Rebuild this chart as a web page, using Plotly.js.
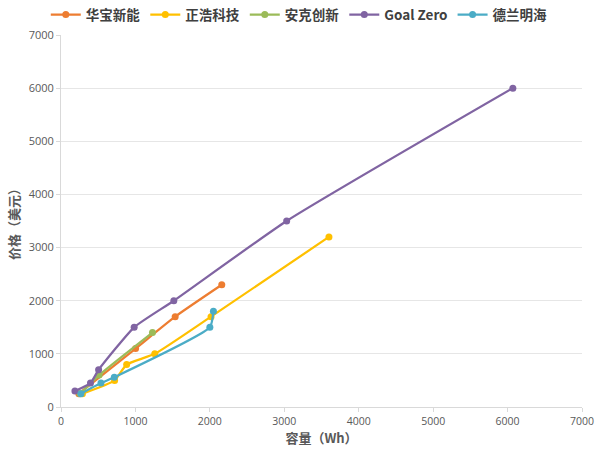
<!DOCTYPE html>
<html>
<head>
<meta charset="utf-8">
<script src="https://cdn.plot.ly/plotly-3.0.1.min.js"></script>
<style>html,body{margin:0;padding:0;background:#fff;}#chart{width:595px;height:449px;}</style>
</head>
<body>
<div id="chart"></div>
<script>
// Series names
const seriesNames = ["华宝新能", "正浩科技", "安克创新", "Goal Zero", "德兰明海"];
// Capacity (Wh) and price (USD) per series
const huabaoX = [240, 1002, 1534, 2160];
const huabaoY = [250, 1100, 1700, 2300];
const zhenghaoX = [288, 720, 882, 1260, 2016, 3600];
const zhenghaoY = [250, 500, 800, 1000, 1700, 3200];
const ankeX = [256, 512, 1229];
const ankeY = [250, 600, 1400];
const goalzeroX = [187, 396, 505, 983, 1516, 3032, 6071];
const goalzeroY = [300, 450, 700, 1500, 2000, 3500, 6000];
const delanX = [268, 537, 716, 2000, 2048];
const delanY = [250, 450, 560, 1500, 1800];
const colors = ["#ED7D31", "#FFC000", "#9BBB59", "#8064A2", "#4BACC6"];
const xTicks = [0, 1000, 2000, 3000, 4000, 5000, 6000, 7000];
const yTicks = [0, 1000, 2000, 3000, 4000, 5000, 6000, 7000];

const xs = [huabaoX, zhenghaoX, ankeX, goalzeroX, delanX];
const ys = [huabaoY, zhenghaoY, ankeY, goalzeroY, delanY];

const traces = seriesNames.map((n, i) => ({
  type: "scatter",
  mode: "lines+markers",
  name: n,
  x: xs[i],
  y: ys[i],
  line: {color: colors[i], width: 2.25, shape: "spline", smoothing: 0.5},
  marker: {color: colors[i], size: 7}
}));

const layout = {
  width: 595, height: 449,
  margin: {l: 61, r: 13, t: 35, b: 42, autoexpand: false},
  paper_bgcolor: "#fff", plot_bgcolor: "#fff",
  font: {family: "'Open Sans', 'Noto Sans CJK SC', sans-serif", color: "#595959", size: 11},
  showlegend: true,
  legend: {
    orientation: "h", xref: "container", yref: "container",
    x: 0.503, xanchor: "center", y: 0.967, yanchor: "middle",
    itemwidth: 30,
    font: {family: "'Noto Sans CJK SC', sans-serif", size: 13.5, color: "#404040", weight: "bold"},
    tracegroupgap: 0
  },
  xaxis: {
    range: [0, 7000], tickvals: xTicks, ticktext: xTicks.map(String),
    showgrid: false, zeroline: false,
    showline: true, linecolor: "#D9D9D9", linewidth: 1,
    ticks: "outside", ticklen: 4, tickcolor: "#D9D9D9",
    ticklabeloverflow: "allow",
    tickfont: {size: 10.5, color: "#595959"},
    title: {text: "容量（Wh）", font: {family: "'Noto Sans CJK SC', sans-serif", size: 13, color: "#595959", weight: "bold"}, standoff: 6}
  },
  yaxis: {
    range: [0, 7000], tickvals: yTicks, ticktext: yTicks.map(String),
    showgrid: true, gridcolor: "#E6E6E6", gridwidth: 1, zeroline: false,
    showline: true, linecolor: "#D9D9D9", linewidth: 1,
    ticks: "outside", ticklen: 4, tickcolor: "#D9D9D9",
    ticklabeloverflow: "allow",
    tickfont: {size: 11, color: "#595959"},
    title: {text: "价格（美元）", font: {family: "'Noto Sans CJK SC', sans-serif", size: 13, color: "#595959", weight: "bold"}, standoff: 6}
  }
};

Plotly.newPlot("chart", traces, layout, {displayModeBar: false, staticPlot: true});
</script>
</body>
</html>
